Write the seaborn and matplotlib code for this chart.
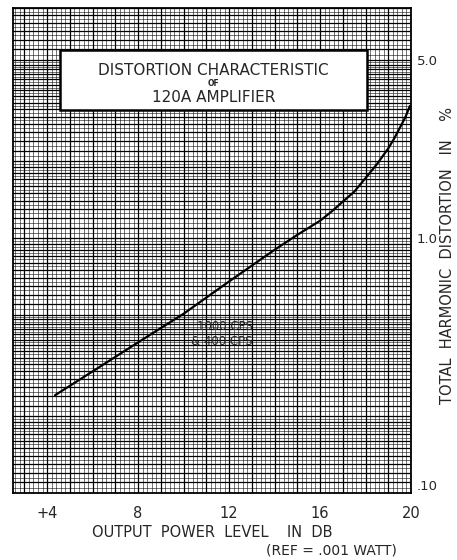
import numpy as np
import matplotlib
matplotlib.use("Agg")
import matplotlib.pyplot as plt
import matplotlib.ticker as mticker
from matplotlib.patches import Rectangle
import seaborn as sns
import pandas as pd

# ---- data ----
output_db = [4.35, 6.0, 8.0, 10.0, 12.0, 14.0, 15.0, 16.0, 16.5, 17.0, 17.5, 18.0,
             18.5, 19.0, 19.25, 19.5, 19.75, 19.95]
thd_pct = [0.242, 0.30, 0.39, 0.505, 0.676, 0.90, 1.03, 1.17, 1.27, 1.39, 1.52, 1.72,
           1.95, 2.25, 2.45, 2.70, 2.98, 3.30]

x_tick_vals = [4, 8, 12, 16, 20]
x_tick_labels = ["+4", "8", "12", "16", "20"]
y_tick_vals = [0.1, 1.0, 5.0]
y_tick_labels = [".10", "1.0", "5.0"]

title_lines = ["DISTORTION CHARACTERISTIC", "OF", "120A AMPLIFIER"]
note_lines = ["1000 CPS", "& 400 CPS"]
x_label = "OUTPUT  POWER  LEVEL    IN  DB"
x_label_ref = "(REF = .001 WATT)"
y_label = "TOTAL  HARMONIC  DISTORTION   IN    %"

# ---- style ----
sns.set_theme(style="white")
plt.rcParams["font.family"] = ["DejaVu Sans"]

fig = plt.figure(figsize=(4.57, 5.60), dpi=100)
ax = fig.add_axes([13 / 457, 1 - 493 / 560, 398 / 457, 485 / 560])

df = pd.DataFrame({"db": output_db, "thd": thd_pct})
sns.lineplot(data=df, x="db", y="thd", ax=ax, color="black", linewidth=1.6, zorder=5)

ax.set_yscale("log")
ax.set_xlim(2.5, 20)
ax.set_ylim(0.1, 8.0)

# graph-paper grid
xmaj = np.arange(3, 20.01, 1.0)
xmin = np.arange(2.6, 20.01, 0.2)
unit = np.concatenate([np.arange(1.0, 2.0, 0.1), np.arange(2.0, 5.0, 0.2), np.arange(5.0, 10.0, 0.5)])
ymaj = np.concatenate([unit * 0.1, unit * 1.0, [10.0]])
ymin = (ymaj[:-1] + ymaj[1:]) / 2

ax.xaxis.set_major_locator(mticker.FixedLocator(xmaj))
ax.xaxis.set_minor_locator(mticker.FixedLocator(xmin))
ax.yaxis.set_major_locator(mticker.FixedLocator(ymaj))
ax.yaxis.set_minor_locator(mticker.FixedLocator(ymin))

xlab_map = dict(zip(x_tick_vals, x_tick_labels))
ylab_map = {round(v, 3): l for v, l in zip(y_tick_vals, y_tick_labels)}
ax.xaxis.set_major_formatter(mticker.FuncFormatter(lambda v, p: xlab_map.get(int(round(v)), "") if abs(v - round(v)) < 1e-6 else ""))
ax.yaxis.set_major_formatter(mticker.FuncFormatter(lambda v, p: ylab_map.get(round(v, 3), "")))
ax.yaxis.set_minor_formatter(mticker.NullFormatter())
ax.xaxis.set_minor_formatter(mticker.NullFormatter())

ax.grid(which="major", color="black", linewidth=0.9)
ax.grid(which="minor", color="black", linewidth=0.45, alpha=0.85)
ax.set_axisbelow(True)

ax.yaxis.tick_right()
ax.tick_params(axis="both", which="both", length=0)
ax.tick_params(axis="x", pad=9, labelsize=10.5)
ax.tick_params(axis="y", pad=4, labelsize=9.5)
for lbl in ax.get_yticklabels():
    if lbl.get_text() == ".10":
        lbl.set_va("bottom")

for s in ax.spines.values():
    s.set_color("black")
    s.set_linewidth(1.3)

ax.set_xlabel(x_label, fontsize=10.5, labelpad=3)
ax.set_ylabel("")
fig.text(331 / 457, 1 - 550 / 560, x_label_ref, fontsize=10, ha="center", va="center")
fig.text(447 / 457, 1 - 256 / 560, y_label, fontsize=10.5, rotation=90, ha="center", va="center")

# title box
ax.add_patch(Rectangle((0.118, 0.790), 0.771, 0.124, transform=ax.transAxes,
                       facecolor="white", edgecolor="black", linewidth=1.8, zorder=6))
ax.text(0.504, 0.872, title_lines[0], transform=ax.transAxes, ha="center", va="center", fontsize=11, zorder=7)
ax.text(0.504, 0.844, title_lines[1], transform=ax.transAxes, ha="center", va="center", fontsize=5.5, fontweight="bold", zorder=7)
ax.text(0.504, 0.815, title_lines[2], transform=ax.transAxes, ha="center", va="center", fontsize=11, zorder=7)

ax.text(0.603, 0.344, note_lines[0], transform=ax.transAxes, ha="right", va="center", fontsize=8.5, zorder=7)
ax.text(0.603, 0.313, note_lines[1], transform=ax.transAxes, ha="right", va="center", fontsize=8.5, zorder=7)

fig.savefig("out.png", dpi=100)
